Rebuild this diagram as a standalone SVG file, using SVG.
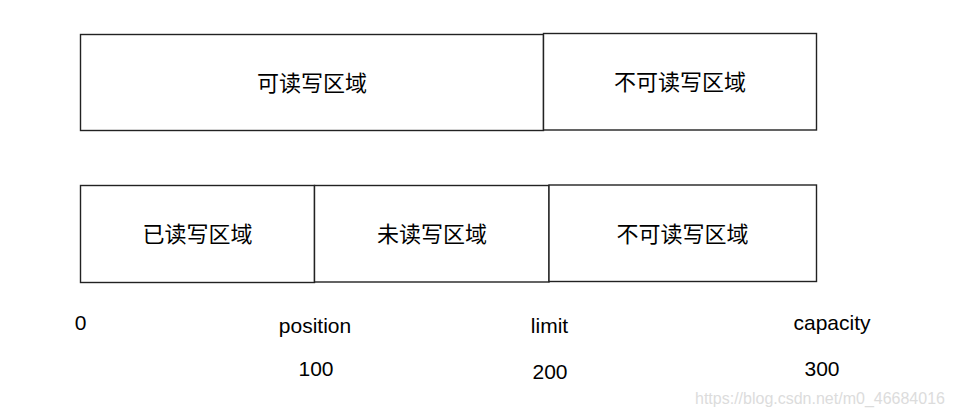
<svg xmlns="http://www.w3.org/2000/svg" width="953" height="418" viewBox="0 0 953 418">
<style>
.box{fill:#fff;stroke:#222;stroke-width:1.4}
.cjk{font-family:"Microsoft YaHei","Noto Sans CJK SC","Noto Sans",sans-serif;font-size:22px;fill:#000;text-anchor:middle}
.lbl{font-family:"Liberation Sans",Arial,sans-serif;font-size:21px;fill:#000;text-anchor:middle}
.wm{font-family:"Liberation Sans",Arial,sans-serif;font-size:16px;fill:#dcdcdc}
</style>
<rect width="953" height="418" fill="#fff"/>
<g id="node-rw-top"><rect class="box" x="80.5" y="34.5" width="463" height="96"/><text class="cjk" x="312" y="91">可读写区域</text></g>
<g id="node-nrw-top"><rect class="box" x="543.5" y="33.5" width="273" height="96.5"/><text class="cjk" x="680" y="90">不可读写区域</text></g>
<g id="node-read"><rect class="box" x="80.5" y="185.5" width="234" height="97"/><text class="cjk" x="197.5" y="242">已读写区域</text></g>
<g id="node-unread"><rect class="box" x="314.5" y="185.5" width="234.5" height="96.5"/><text class="cjk" x="432" y="242">未读写区域</text></g>
<g id="node-nrw-bottom"><rect class="box" x="549" y="185" width="267.5" height="96.5"/><text class="cjk" x="682.5" y="242">不可读写区域</text></g>
<g id="connectors"></g>
<g id="labels">
<text class="lbl" x="80.5" y="330">0</text>
<text class="lbl" x="315" y="333">position</text>
<text class="lbl" x="549.5" y="333">limit</text>
<text class="lbl" x="832" y="330">capacity</text>
<text class="lbl" x="316" y="376">100</text>
<text class="lbl" x="550" y="379">200</text>
<text class="lbl" x="822" y="376">300</text>
</g>
<text class="wm" x="695" y="404">https://blog.csdn.net/m0_46684016</text>
</svg>
